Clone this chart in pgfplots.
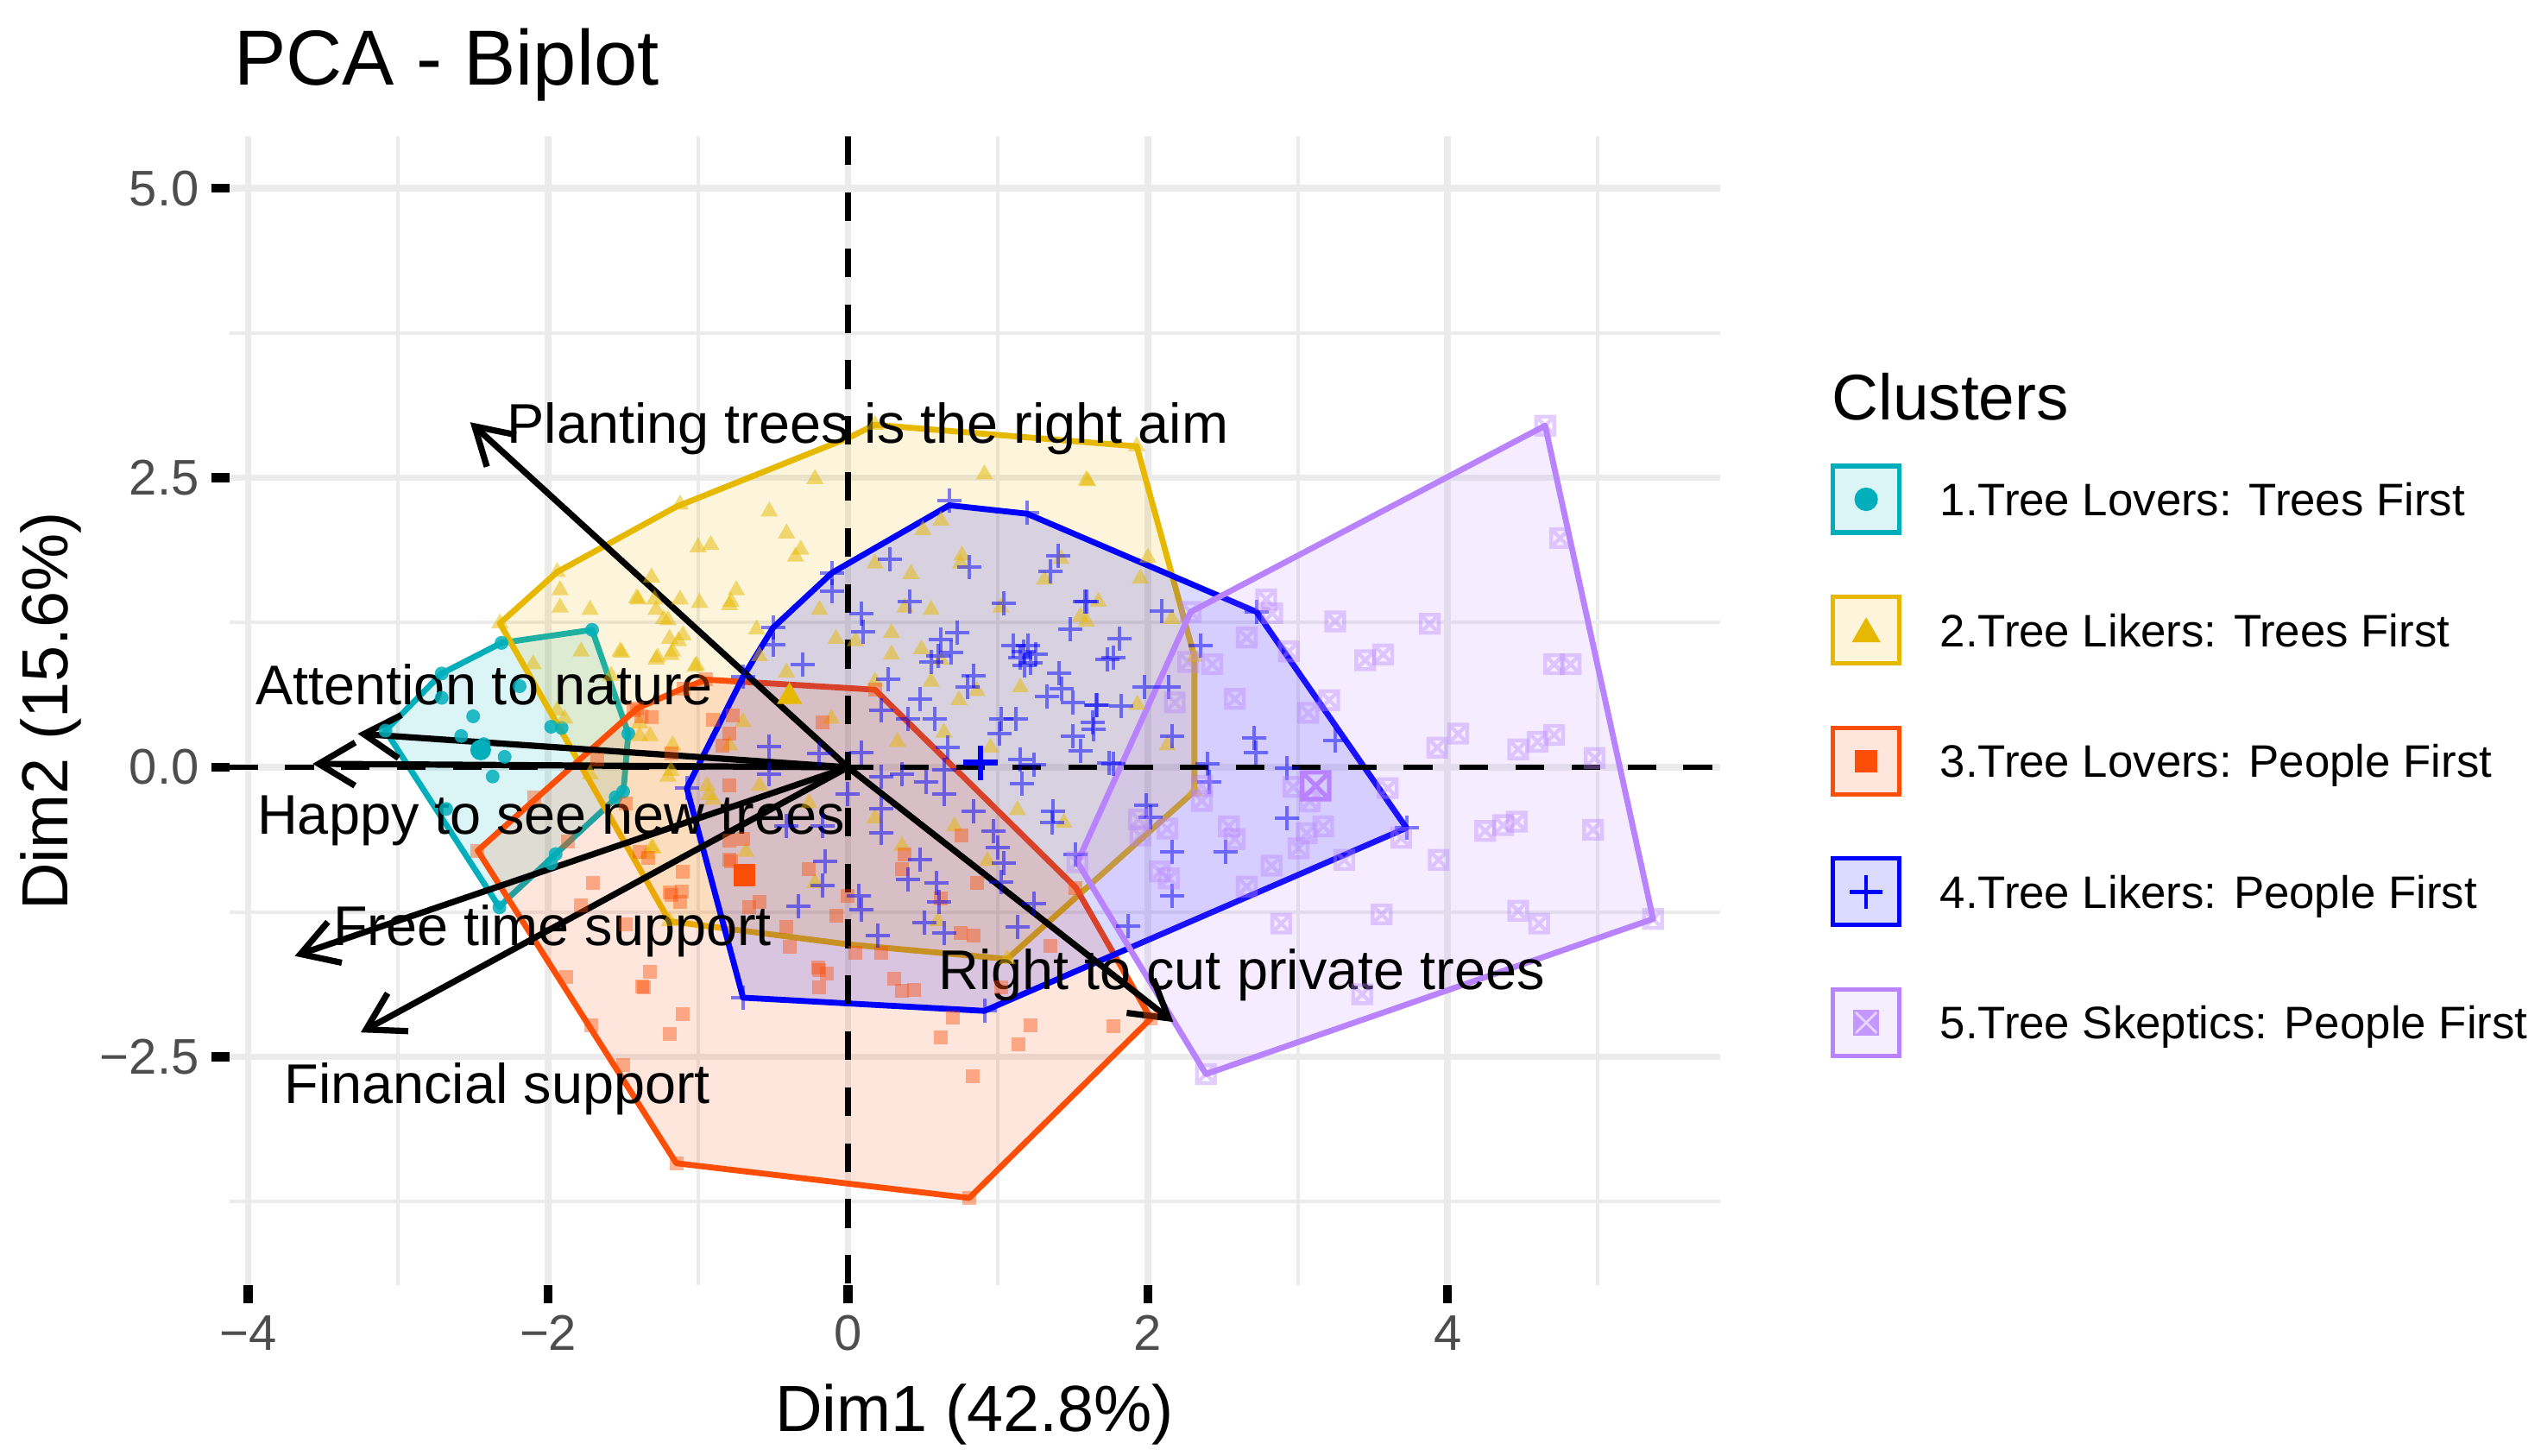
\documentclass[border=0pt]{standalone}
\usepackage{pgfplots}
\pgfplotsset{compat=1.18}
\usepackage{fontspec}
\setmainfont{Liberation Sans}
\usetikzlibrary{arrows.meta}
\definecolor{cC}{HTML}{00AFBB}
\definecolor{yC}{HTML}{E7B800}
\definecolor{rC}{HTML}{FC4E07}
\definecolor{bC}{HTML}{0000FF}
\definecolor{pC}{HTML}{B983FF}
\definecolor{gridC}{HTML}{EBEBEB}
\definecolor{tickC}{HTML}{4D4D4D}
\pgfdeclareplotmark{boxx}{%
  \pgfpathrectangle{\pgfqpoint{-\pgfplotmarksize}{-\pgfplotmarksize}}{\pgfqpoint{2\pgfplotmarksize}{2\pgfplotmarksize}}%
  \pgfpathmoveto{\pgfqpoint{-\pgfplotmarksize}{-\pgfplotmarksize}}%
  \pgfpathlineto{\pgfqpoint{\pgfplotmarksize}{\pgfplotmarksize}}%
  \pgfpathmoveto{\pgfqpoint{-\pgfplotmarksize}{\pgfplotmarksize}}%
  \pgfpathlineto{\pgfqpoint{\pgfplotmarksize}{-\pgfplotmarksize}}%
  \pgfusepathqstroke
}
\begin{document}
\begin{tikzpicture}
\begin{axis}[
  at={(0pt,0pt)}, anchor=south west,
  width=431.775pt, height=332.75pt, scale only axis,
  xmin=-4.127, xmax=5.816, ymin=-4.475, ymax=5.447,
  clip=false,
  axis line style={draw=none},
  xtick={-4,-2,0,2,4}, xticklabels={−4,−2,0,2,4},
  ytick={-2.5,0,2.5,5}, yticklabels={−2.5,0.0,2.5,5.0},
  minor xtick={-3,-1,1,3,5}, minor ytick={-3.75,-1.25,1.25,3.75},
  grid=both,
  major grid style={gridC, line width=1.9pt},
  minor grid style={gridC, line width=1.0pt},
  tick align=outside, tick pos=left,
  major tick length=5.25pt, minor tick length=0pt,
  tick style={black, line width=2.6pt},
  /pgf/number format/assume math mode=true,
  ticklabel style={font=\fontsize{14.5}{15}\selectfont, text=tickC},
  xlabel={Dim1 (42.8\%)},
  ylabel={Dim2 (15.6\%)},
  xlabel style={at={(axis description cs:0.5,-0.1268)}, anchor=base, inner sep=0pt, font=\fontsize{18.9}{20}\selectfont},
  ylabel style={at={(axis description cs:-0.1196,0.5)}, anchor=center, inner sep=0pt, font=\fontsize{18.9}{20}\selectfont},
  legend style={at={(1.07431,0.71517)}, anchor=north west, draw=none, fill=none, inner sep=0pt, outer sep=0pt,
    row sep=17.35pt, column sep=11.1pt, font=\fontsize{13.2}{14}\selectfont,
    nodes={inner sep=0pt, text height=9.45pt, text depth=0pt}},
  legend cell align=left,
]
% ---------- legend keys ----------
\addlegendimage{legend image code/.code={%
  \draw[cC, fill=cC!14, line width=1.3pt] (0pt,-9.625pt) rectangle (19.25pt,9.625pt);
  \fill[cC] (9.625pt,0pt) circle (3.2pt);}}
\addlegendentry{1.Tree Lovers: Trees First}
\addlegendimage{legend image code/.code={%
  \draw[yC, fill=yC!14, line width=1.3pt] (0pt,-9.625pt) rectangle (19.25pt,9.625pt);
  \fill[yC] (5.775pt,-3.33pt) -- (13.475pt,-3.33pt) -- (9.625pt,3.33pt) -- cycle;}}
\addlegendentry{2.Tree Likers: Trees First}
\addlegendimage{legend image code/.code={%
  \draw[rC, fill=rC!14, line width=1.3pt] (0pt,-9.625pt) rectangle (19.25pt,9.625pt);
  \fill[rC] (6.525pt,-3.1pt) rectangle (12.725pt,3.1pt);}}
\addlegendentry{3.Tree Lovers: People First}
\addlegendimage{legend image code/.code={%
  \draw[bC, fill=bC!14, line width=1.3pt] (0pt,-9.625pt) rectangle (19.25pt,9.625pt);
  \draw[bC, line width=1.1pt] (4.825pt,0pt) -- (14.425pt,0pt) (9.625pt,-4.8pt) -- (9.625pt,4.8pt);}}
\addlegendentry{4.Tree Likers: People First}
\addlegendimage{legend image code/.code={%
  \draw[pC, fill=pC!14, line width=1.3pt] (0pt,-9.625pt) rectangle (19.25pt,9.625pt);
  \fill[pC!85] (6.125pt,-3.5pt) rectangle (13.125pt,3.5pt);
  \draw[pC!35, line width=0.7pt] (6.6pt,-3pt) -- (12.65pt,3pt) (6.6pt,3pt) -- (12.65pt,-3pt);}}
\addlegendentry{5.Tree Skeptics: People First}

% ---------- points ----------
\addplot[only marks, color=cC, mark=*, mark size=2.0pt, mark options={fill=cC, draw opacity=0, fill opacity=0.85}, forget plot] coordinates {
(-2.311,1.074) (-1.707,1.187) (-2.71,0.81) (-2.19,0.70) (-2.50,0.44) (-1.98,0.35) (-2.71,0.60)
(-2.58,0.27) (-2.43,0.20) (-2.29,0.09) (-2.37,-0.08) (-1.91,0.34) (-1.50,-0.21) (-1.95,-0.75)
(-2.68,-0.36) (-3.085,0.316) (-2.325,-1.21) (-1.55,-0.26) (-1.98,-0.83) (-1.465,0.29)};

\addplot[only marks, color=yC, mark=triangle*, mark size=2.9pt, mark options={fill=yC, draw opacity=0, fill opacity=0.5}, forget plot] coordinates {
(-2.322,1.243) (-1.939,1.687) (1.926,2.772) (2.311,-0.207) (1.062,-1.656) (-1.19,-1.33) (0.18,2.958)
(-1.12,2.27) (-1.00,1.90) (-0.915,1.92) (-1.92,1.53) (-1.92,1.38) (-1.72,1.36) (-1.40,1.45)
(-1.31,1.64) (-1.29,1.45) (-1.28,1.36) (-1.12,1.45) (-0.99,1.42) (-0.79,1.40) (-1.20,1.27)
(-1.19,1.11) (-1.10,1.14) (-1.18,0.97) (-1.28,0.93) (-1.51,0.99) (-1.78,1.00) (-2.10,0.89)
(-1.01,0.88) (-1.58,0.79) (-1.94,0.49) (-1.89,0.42) (-1.39,0.27) (-1.32,0.27) (-1.39,0.38)
(-1.17,0.19) (-1.20,-0.08) (-0.93,-0.24) (-1.31,-0.70) (-1.72,-0.06)
(-0.22,2.49) (0.91,2.53) (1.60,2.47) (-0.525,2.21) (-0.41,2.02) (-0.35,1.82) (-0.315,1.88)
(-1.41,1.46) (-0.745,1.53) (-0.78,1.43) (-1.23,1.28) (-1.13,1.09) (-1.27,0.95) (-1.17,1.00)
(-1.52,1.00) (-1.02,0.87) (-0.61,1.19) (-0.59,0.96) (-0.19,1.36) (-0.08,1.11) (0.05,1.09)
(0.18,1.76) (0.42,1.67) (0.62,2.13) (0.50,2.05) (0.76,1.83) (0.75,1.76) (0.38,1.38) (0.555,1.36)
(0.29,1.16) (1.02,1.38) (1.31,1.62) (1.42,1.80) (1.67,1.43) (1.55,1.30) (0.49,1.02) (0.62,0.93)
(0.29,0.975) (0.86,0.66) (0.74,0.58) (1.15,0.69) (0.18,0.74) (0.555,0.74) (-0.41,0.82)
(-0.11,0.42) (-0.70,0.39) (-0.79,0.19) (0.33,0.22) (0.64,0.30) (0.95,0.17)
(-1.18,-0.03) (-0.94,-0.16) (-0.90,-0.28) (-0.59,-0.16) (-0.26,-0.31) (0.18,-0.44) (0.36,-0.68)
(0.71,-0.51) (1.13,-0.37) (1.44,-0.48) (0.93,-0.81) (-0.22,-1.00) (0.60,-1.33) (-1.30,-0.70)
(-1.34,-0.75) (-0.68,-0.73) (1.59,2.48) (2.00,1.81) (1.95,1.63) (1.59,1.26) (2.16,1.28)
(1.93,0.54) (2.13,0.19) (2.311,0.955)};

\addplot[only marks, color=rC, mark=square*, mark size=2.0pt, mark options={fill=rC, draw opacity=0, fill opacity=0.42}, forget plot] coordinates {
(-1.43,0.49) (-1.67,0.07) (-2.09,-0.26) (-1.48,-0.31) (-1.87,-0.64) (-2.47,-0.72) (-1.39,-0.73)
(-1.33,-0.78) (-1.10,-0.90) (-1.70,-1.00) (-1.18,-1.10) (-1.11,-1.07) (-1.78,-1.19) (-1.48,-1.36)
(-1.88,-1.81) (-1.32,-1.77) (-1.37,-1.89) (-1.10,-2.13) (-1.71,-2.23) (-1.19,-2.30) (-1.50,-2.57)
(-0.90,0.41) (-0.84,0.19) (-0.78,-0.81) (-0.79,-0.16) (-0.79,-0.63) (-0.70,-0.62) (-0.79,-0.80)
(-1.19,-1.08) (-1.12,-1.16) (-0.59,-1.16) (-0.66,-1.21) (-0.26,-0.88) (0.00,-1.11) (-0.08,-1.28)
(0.38,-0.75) (0.36,-0.88) (0.62,-1.13) (0.76,-0.59) (0.86,-1.00) (0.75,-1.43) (0.84,-1.45)
(-0.39,-1.55) (-0.41,-1.38) (-0.19,-1.75) (-0.14,-1.78) (-0.19,-1.90) (0.05,-1.60) (0.22,-1.60)
(0.31,-1.83) (0.36,-1.93) (0.44,-1.92) (1.35,-1.54) (1.02,-1.90) (-1.36,-1.90) (0.70,-2.16)
(0.62,-2.33) (1.22,-2.23) (1.14,-2.39) (1.77,-2.24) (0.83,-2.67) (-1.145,-3.42) (0.809,-3.72)
(2.02,-2.17) (-0.20,-1.73) (-1.38,0.44) (-1.31,0.43) (-0.77,0.45) (-0.17,0.39) (-0.944,0.757)
(0.18,0.67) (-0.79,0.29) (-1.18,0.12) (1.52,-1.04) (-1.098,0.682) (-1.405,0.51)};

\addplot[only marks, color=bC, mark=+, mark size=3.5pt, mark options={draw=bC, draw opacity=0.5, line width=1.0pt}, forget plot] coordinates {
(0.676,2.30) (1.194,2.20) (-0.106,1.68) (0.28,1.80) (0.81,1.73) (1.40,1.83) (1.35,1.69)
(-0.106,1.52) (0.41,1.43) (0.09,1.33) (1.04,1.42) (1.58,1.43) (-0.50,1.21) (0.10,1.17)
(0.62,1.10) (0.73,1.16) (1.48,1.19) (-0.50,1.06) (1.17,1.00) (1.20,1.05) (1.15,0.95) (1.22,0.90)
(1.10,1.05) (1.25,0.98) (1.18,0.88) (1.77,0.95) (0.60,0.96) (0.69,0.99) (0.555,0.91) (-0.30,0.89)
(0.27,0.76) (0.84,0.79) (1.41,0.81) (0.80,0.69) (1.425,0.68) (0.48,0.59) (1.33,0.61) (1.50,0.56)
(1.66,0.54) (0.22,0.49) (0.40,0.42) (0.58,0.42) (1.02,0.42) (1.12,0.42) (1.01,0.29) (1.63,0.39)
(1.50,0.27) (1.55,0.14) (-0.525,0.18) (-0.19,0.12) (0.09,0.13) (0.665,0.17) (1.15,0.07) (1.74,0.04)
(0.22,-0.08) (0.00,-0.23) (0.22,-0.36) (0.22,-0.57) (0.36,-0.06) (0.52,-0.13) (0.64,-0.23)
(0.64,-0.02) (0.84,-0.38) (0.97,-0.55) (1.00,-0.69) (1.04,-0.83) (1.02,-0.99) (1.16,-0.14)
(1.24,0.02) (1.37,-0.38) (1.36,-0.48) (1.52,-0.75) (1.24,-1.18) (1.13,-1.38) (-0.525,-0.06)
(-0.41,-0.51) (-0.17,-0.51) (-0.15,-0.81) (-0.17,-1.02) (-0.33,-1.20) (0.07,-1.11) (0.09,-1.23)
(0.48,-0.80) (0.40,-0.97) (0.59,-1.00) (0.61,-1.16) (0.51,-1.34) (0.64,-1.43) (0.20,-1.45)
(-0.70,-1.99) (0.91,-2.10) (-1.075,-0.18) (-0.70,0.78) (2.725,1.342) (3.725,-0.524)
(2.09,1.35) (1.81,1.11) (1.73,0.93) (2.35,1.05) (1.98,0.69) (2.14,0.69) (1.655,0.54) (1.82,0.53)
(1.64,0.33) (2.16,0.27) (2.71,0.25) (2.72,0.13) (3.25,0.23) (2.40,0.03) (1.77,0.03) (2.93,-0.01)
(2.41,-0.13) (2.93,-0.44) (1.99,-0.33) (2.02,-0.43) (2.16,-0.73) (2.52,-0.73) (2.16,-1.11)
(1.87,-1.37) (1.59,1.43)};

\addplot[only marks, color=pC, mark=boxx, mark size=2.6pt, mark options={draw=pC, draw opacity=0.4, line width=1.1pt}, forget plot] coordinates {
(4.65,2.95) (4.75,1.98) (2.79,1.45) (2.83,1.33) (2.286,1.342) (3.25,1.26) (3.88,1.24) (2.66,1.12)
(2.94,1.00) (3.45,0.925) (3.57,0.975) (2.43,0.89) (4.71,0.89) (4.82,0.89) (2.27,0.91) (2.58,0.59)
(3.21,0.58) (3.07,0.47) (2.18,0.56) (4.07,0.29) (3.93,0.17) (4.47,0.155) (4.60,0.22) (4.71,0.28)
(4.98,0.08) (2.97,-0.17) (3.08,-0.295) (3.60,-0.18) (2.36,-0.16) (2.36,-0.29) (1.94,-0.45)
(2.13,-0.53) (2.54,-0.51) (2.58,-0.62) (3.06,-0.57) (3.17,-0.51) (1.95,-0.59) (3.005,-0.70)
(3.69,-0.61) (2.825,-0.85) (2.08,-0.90) (2.14,-0.96) (3.31,-0.80) (3.94,-0.80) (2.66,-1.03)
(4.25,-0.55) (4.37,-0.50) (4.46,-0.47) (4.97,-0.54) (1.53,-0.82) (3.56,-1.27) (2.89,-1.35)
(4.47,-1.24) (4.61,-1.35) (5.37,-1.31) (3.43,-1.96) (2.388,-2.65)};

% ---------- cluster centres ----------
\addplot[only marks, color=cC, mark=*, mark size=3.0pt, mark options={fill=cC, draw opacity=0}, forget plot] coordinates {(-2.45,0.15)};
\addplot[only marks, color=yC, mark=triangle*, mark size=4.2pt, mark options={fill=yC, draw opacity=0}, forget plot] coordinates {(-0.39,0.61)};
\addplot[only marks, color=rC, mark=square*, mark size=3.2pt, mark options={fill=rC, draw opacity=0}, forget plot] coordinates {(-0.69,-0.93)};
\addplot[only marks, color=bC, mark=+, mark size=5pt, mark options={draw=bC, line width=1.6pt}, forget plot] coordinates {(0.885,0.04)};
\addplot[only marks, color=pC, mark=boxx, mark size=3.9pt, mark options={draw=pC, line width=1.3pt}, forget plot] coordinates {(3.12,-0.16)};

% ---------- convex hulls ----------
\addplot[draw=cC, line width=1.7pt, line join=round, fill=cC, fill opacity=0.14, forget plot] coordinates {
(-3.085,0.316) (-2.71,0.81) (-2.311,1.074) (-1.707,1.187) (-1.465,0.291) (-1.498,-0.207) (-2.269,-1.134) (-2.325,-1.209)} -- cycle;
\addplot[draw=yC, line width=1.7pt, line join=round, fill=yC, fill opacity=0.14, forget plot] coordinates {
(-2.322,1.243) (-1.939,1.687) (-1.146,2.25) (0.004,2.846) (0.18,2.958) (1.926,2.772) (2.311,0.955) (2.311,-0.207) (1.062,-1.656) (0.004,-1.53) (-1.19,-1.33)} -- cycle;
\addplot[draw=rC, line width=1.7pt, line join=round, fill=rC, fill opacity=0.14, forget plot] coordinates {
(-2.47,-0.72) (-1.405,0.51) (-1.098,0.682) (-0.944,0.757) (0.18,0.67) (1.52,-1.04) (2.02,-2.17) (0.809,-3.72) (-1.145,-3.42)} -- cycle;
\addplot[draw=bC, line width=1.7pt, line join=round, fill=bC, fill opacity=0.14, forget plot] coordinates {
(-0.70,-1.99) (-1.075,-0.18) (-0.70,0.78) (-0.50,1.205) (-0.106,1.68) (0.676,2.263) (1.194,2.19) (2.725,1.342) (3.725,-0.524) (0.91,-2.104)} -- cycle;
\addplot[draw=pC, line width=1.7pt, line join=round, fill=pC, fill opacity=0.14, forget plot] coordinates {
(2.286,1.342) (4.65,2.95) (5.37,-1.31) (2.388,-2.65) (1.53,-0.82)} -- cycle;

% ---------- reference lines ----------
\addplot[black, line width=1.7pt, dash pattern=on 8.3pt off 7.9pt, forget plot] coordinates {(-4.127,0) (5.816,0)};
\addplot[black, line width=1.7pt, dash pattern=on 8.3pt off 7.9pt, forget plot] coordinates {(0,5.447) (0,-4.475)};

% ---------- variable arrows ----------
\addplot[black, line width=1.8pt, -{Straight Barb[length=10.5pt,width=12.5pt]}, forget plot] coordinates {(0,0) (-2.52,2.98)};
\addplot[black, line width=1.8pt, -{Straight Barb[length=10.5pt,width=12.5pt]}, forget plot] coordinates {(0,0) (-3.27,0.29)};
\addplot[black, line width=1.8pt, -{Straight Barb[length=10.5pt,width=12.5pt]}, forget plot] coordinates {(0,0) (-3.57,0.03)};
\addplot[black, line width=1.8pt, -{Straight Barb[length=10.5pt,width=12.5pt]}, forget plot] coordinates {(0,0) (-3.69,-1.63)};
\addplot[black, line width=1.8pt, -{Straight Barb[length=10.5pt,width=12.5pt]}, forget plot] coordinates {(0,0) (-3.25,-2.29)};
\addplot[black, line width=1.8pt, -{Straight Barb[length=10.5pt,width=12.5pt]}, forget plot] coordinates {(0,0) (2.17,-2.20)};

\node[anchor=base west, inner sep=0pt, font=\fontsize{16.2}{17}\selectfont] at (axis cs:-2.278,2.80) {Planting trees is the right aim};
\node[anchor=base west, inner sep=0pt, font=\fontsize{16.2}{17}\selectfont] at (axis cs:-3.955,0.544) {Attention to nature};
\node[anchor=base west, inner sep=0pt, font=\fontsize{16.2}{17}\selectfont] at (axis cs:-3.944,-0.579) {Happy to see new trees};
\node[anchor=base west, inner sep=0pt, font=\fontsize{16.2}{17}\selectfont] at (axis cs:-3.437,-1.536) {Free time support};
\node[anchor=base west, inner sep=0pt, font=\fontsize{16.2}{17}\selectfont] at (axis cs:-3.764,-2.90) {Financial support};
\node[anchor=base west, inner sep=0pt, font=\fontsize{16.2}{17}\selectfont] at (axis cs:0.599,-1.921) {Right to cut private trees};

% ---------- title and legend title ----------
\node[anchor=base west, inner sep=0pt, font=\fontsize{22.6}{24}\selectfont] at (axis description cs:0.0028,1.0451) {PCA - Biplot};
\node[anchor=base west, inner sep=0pt, font=\fontsize{18.7}{20}\selectfont] at (axis description cs:1.0747,0.7537) {Clusters};
\end{axis}
\pgfresetboundingbox
\path[use as bounding box] (-66.4pt,-49.175pt) rectangle (669.6pt,372.325pt);
\end{tikzpicture}
\end{document}
